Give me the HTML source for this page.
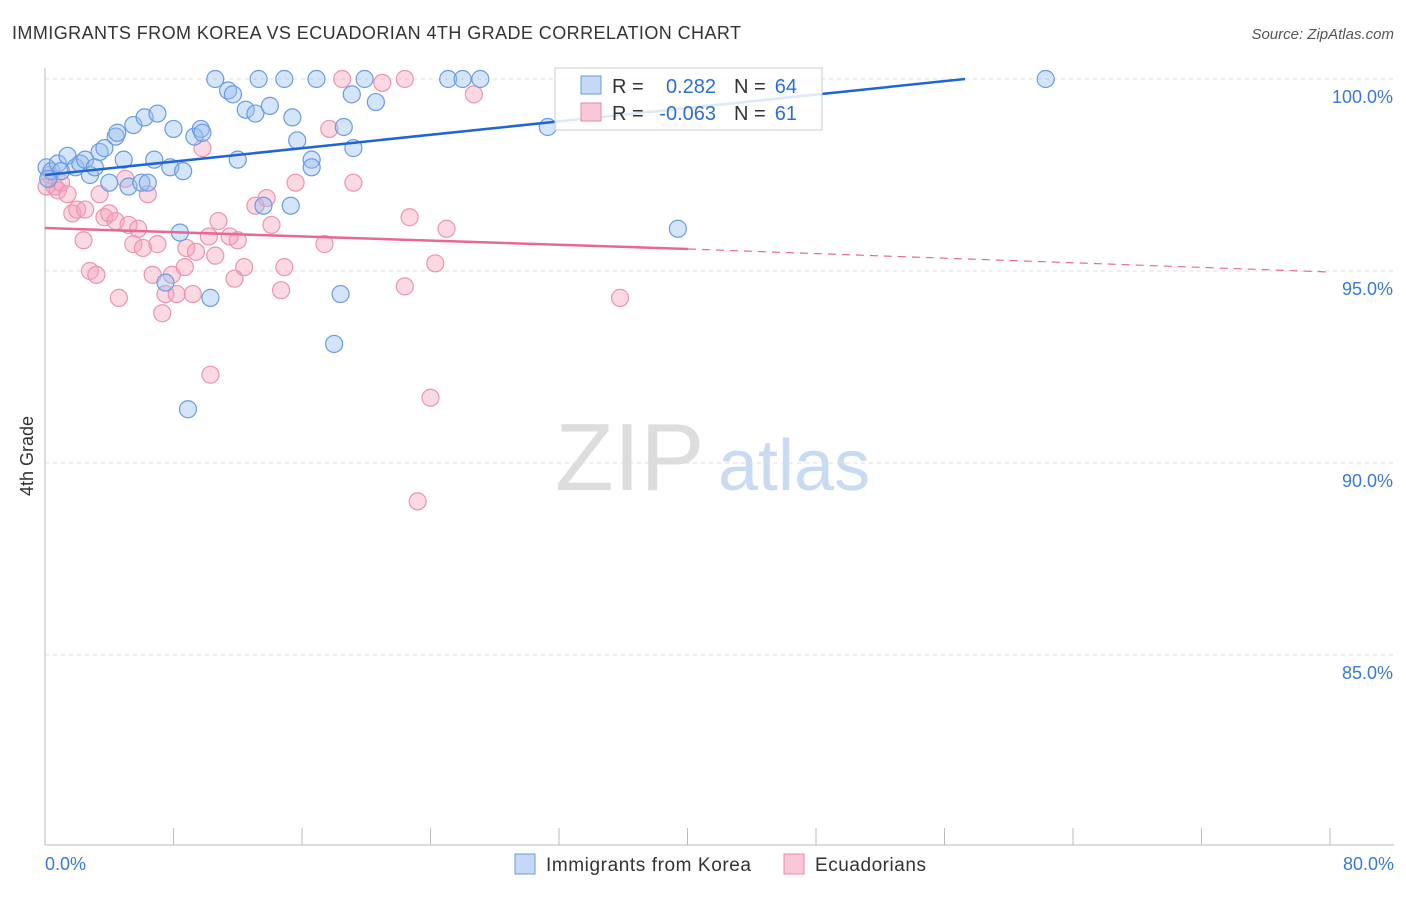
<!DOCTYPE html>
<html><head><meta charset="utf-8"><style>
body{margin:0;background:#fff;font-family:"Liberation Sans",sans-serif}
svg text{font-family:"Liberation Sans",sans-serif}
</style></head><body>
<svg id="c" width="1406" height="892">
<text x="12" y="39" font-size="18" fill="#333" textLength="729">IMMIGRANTS FROM KOREA VS ECUADORIAN 4TH GRADE CORRELATION CHART</text>
<text x="1394" y="39" font-size="15" fill="#555" font-style="italic" text-anchor="end">Source: ZipAtlas.com</text>
<text x="33" y="456" font-size="18" fill="#333" transform="rotate(-90 33 456)" text-anchor="middle">4th Grade</text>
<text x="555" y="490" font-size="96" fill="#ddd" font-family="Liberation Serif">ZIP</text>
<text x="718" y="490" font-size="72" fill="#c9dbf2">atlas</text>
<g id="grid"></g><g id="marks"></g>
<g>
<rect x="555" y="68" width="267" height="62" fill="#fff" fill-opacity="0.85" stroke="#ccc"/>
<rect x="581" y="76" width="20" height="18" fill="#c5d9f5" stroke="#6a9be0"/>
<rect x="581" y="103" width="20" height="18" fill="#f8c8d8" stroke="#e88aa8"/>
<text x="612" y="93" font-size="20" fill="#333">R = </text>
<text x="716" y="93" font-size="20" fill="#2a6fd6" text-anchor="end">0.282</text>
<text x="734" y="93" font-size="20" fill="#333">N = </text>
<text x="797" y="93" font-size="20" fill="#2a6fd6" text-anchor="end">64</text>
<text x="612" y="120" font-size="20" fill="#333">R = </text>
<text x="716" y="120" font-size="20" fill="#2a6fd6" text-anchor="end">-0.063</text>
<text x="734" y="120" font-size="20" fill="#333">N = </text>
<text x="797" y="120" font-size="20" fill="#2a6fd6" text-anchor="end">61</text>
</g>
<g>
<rect x="515" y="854" width="20" height="20" fill="#c5d9f5" stroke="#6a9be0"/>
<text x="546" y="871" font-size="19" fill="#333" textLength="205">Immigrants from Korea</text>
<rect x="784" y="854" width="20" height="20" fill="#f8c8d8" stroke="#e88aa8"/>
<text x="815" y="871" font-size="19" fill="#333" textLength="111">Ecuadorians</text>
</g>
</svg>
<script>
const yTicks=[100,95,90,85];
const xTickLabels=["0.0%","80.0%"];
const koreaX=[0.1,0.4,0.8,1.0,1.4,1.9,2.2,2.5,2.8,3.1,3.4,3.7,4.0,4.4,4.5,4.9,5.2,5.5,6.0,6.2,6.4,6.8,7.0,7.8,8.0,8.4,8.6,8.9,9.3,9.7,9.8,10.3,10.6,11.4,11.7,12.0,12.5,13.1,13.3,13.6,14.0,14.9,15.3,15.4,15.7,16.6,16.6,16.9,18.0,18.4,18.6,19.1,19.2,19.9,20.6,25.1,26.0,27.1,31.3,39.4,62.3,7.5,0.2];
const koreaY=[97.7,97.6,97.8,97.6,98.0,97.7,97.8,97.9,97.5,97.7,98.1,98.2,97.3,98.5,98.6,97.9,97.2,98.8,97.3,99.0,97.3,97.9,99.1,97.7,98.7,96.0,97.6,91.4,98.5,98.7,98.6,94.3,100,99.7,99.6,97.9,99.2,99.1,100,96.7,99.3,100,96.7,99.0,98.4,97.9,97.7,100,93.1,94.4,98.75,99.6,98.2,100,99.4,100,100,100,98.75,96.1,100,94.7,97.4];
const ecuX=[0.1,0.3,0.6,0.8,1.0,1.4,1.7,2.0,2.4,2.5,2.8,3.2,3.4,3.7,4.0,4.4,4.6,5.0,5.2,5.5,5.8,6.1,6.4,6.7,7.0,7.3,7.5,7.9,8.2,8.7,8.8,9.2,9.4,9.8,10.2,10.3,10.6,10.8,11.5,11.8,12.0,12.4,13.1,13.8,14.1,14.7,14.9,15.6,17.4,17.7,18.5,19.2,21.0,22.4,22.4,22.7,23.2,24.0,24.3,25.0,26.7,35.8];
const ecuY=[97.2,97.5,97.2,97.1,97.3,97.0,96.5,96.6,95.8,96.6,95.0,94.9,97.0,96.4,96.5,96.3,94.3,97.4,96.2,95.7,96.1,95.6,97.0,94.9,95.7,93.9,94.4,94.9,94.4,95.1,95.6,94.4,95.5,98.2,95.9,92.3,95.4,96.3,95.9,94.8,95.8,95.1,96.7,96.9,96.2,94.5,95.1,97.3,95.7,98.7,100,97.3,99.9,100,94.6,96.4,89.0,91.7,95.2,96.1,99.6,94.3];
const NS="http://www.w3.org/2000/svg";
const X0=45,X1=1330,Y100=79,PPU=38.4;
const xs=v=>X0+(v/80)*(X1-X0);
const ys=v=>Y100+(100-v)*PPU;
function mk(t,a,p){const e=document.createElementNS(NS,t);for(const k in a)e.setAttribute(k,a[k]);p.appendChild(e);return e;}
const g=document.getElementById('grid'),m=document.getElementById('marks');
let ax=mk('line',{x1:45,y1:68,x2:45,y2:845,stroke:'#bbb'},g);


let bx=mk('line',{x1:45,y1:845,x2:1394,y2:845,stroke:'#bbb'},g);


yTicks.forEach(t=>{
 let l=mk('line',{x1:45,y1:ys(t),x2:1394,y2:ys(t),stroke:'#ddd','stroke-dasharray':'4,4'},g);
 
 
 let tx=mk('text',{x:1393,y:ys(t)+24,'font-size':18,fill:'#3a78d8','text-anchor':'end'},g);
 tx.textContent=t.toFixed(1)+'%';
 
 
});
for(let i=1;i<=10;i++){let l=mk('line',{x1:xs(i*8),y1:828,x2:xs(i*8),y2:845,stroke:'#bbb'},g);
 
 }
let t0=mk('text',{x:45,y:870,'font-size':18,fill:'#3a78d8'},g);t0.textContent=xTickLabels[0];


let t1=mk('text',{x:1394,y:870,'font-size':18,fill:'#3a78d8','text-anchor':'end'},g);t1.textContent=xTickLabels[1];


ecuX.forEach((x,i)=>{let c=mk('circle',{cx:xs(x),cy:ys(ecuY[i]),r:8.5,fill:'rgba(244,160,185,0.4)',stroke:'#ec94b0','stroke-width':1.2},m);
 
 });
koreaX.forEach((x,i)=>{let c=mk('circle',{cx:xs(x),cy:ys(koreaY[i]),r:8.5,fill:'rgba(150,190,240,0.4)',stroke:'#6a9be0','stroke-width':1.2},m);
 
 });
let bl=mk('line',{x1:45,y1:175,x2:965,y2:79,stroke:'#1f66d4','stroke-width':2.5},m);


let pl=mk('line',{x1:45,y1:228,x2:688,y2:249,stroke:'#e8688f','stroke-width':2.5},m);


let pd=mk('line',{x1:688,y1:249,x2:1330,y2:272,stroke:'#e8688f','stroke-width':1.2,'stroke-dasharray':'8,6'},m);


</script>
</body></html>
